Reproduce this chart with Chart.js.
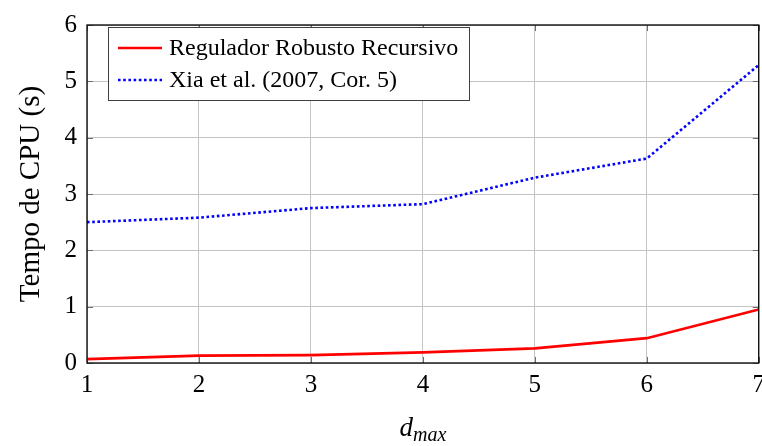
<!DOCTYPE html>
<html>
<head>
<meta charset="utf-8">
<script src="https://cdn.jsdelivr.net/npm/chart.js@4.4.1/dist/chart.umd.min.js"></script>
<style>
  html, body { margin: 0; padding: 0; background: #fff; overflow: hidden; }
  #wrap { width: 762px; height: 446px; overflow: hidden; }
</style>
</head>
<body>
<div id="wrap"><canvas id="cpuChart" width="772" height="446"></canvas></div>
<script>
const dmax = [1, 2, 3, 4, 5, 6, 7];
const recursivo = [0.07, 0.13, 0.14, 0.19, 0.26, 0.44, 0.95];
const xia = [2.5, 2.58, 2.75, 2.82, 3.29, 3.63, 5.29];
const yTicks = [0, 1, 2, 3, 4, 5, 6];

const serif = '"Liberation Serif", "Times New Roman", serif';

const toPoints = (ys) => dmax.map((x, i) => ({ x: x, y: ys[i] }));

// frame, inner tick marks, legend box and the d_max axis title
const decorations = {
  id: 'decorations',
  afterDatasetsDraw(chart) {
    const { ctx, chartArea: a, scales } = chart;
    ctx.save();

    // inner tick marks on all four sides
    ctx.strokeStyle = '#6e6e6e';
    ctx.lineWidth = 1;
    ctx.beginPath();
    scales.y.ticks.forEach((t) => {
      const py = Math.round(scales.y.getPixelForValue(t.value)) + 0.5;
      ctx.moveTo(a.left, py); ctx.lineTo(a.left + 6, py);
      ctx.moveTo(a.right, py); ctx.lineTo(a.right - 6, py);
    });
    scales.x.ticks.forEach((t) => {
      const px = Math.round(scales.x.getPixelForValue(t.value)) + 0.5;
      ctx.moveTo(px, a.bottom); ctx.lineTo(px, a.bottom - 6);
      ctx.moveTo(px, a.top); ctx.lineTo(px, a.top + 6);
    });
    ctx.stroke();

    // axis frame
    ctx.strokeStyle = '#000';
    ctx.lineWidth = 1.3;
    ctx.strokeRect(a.left, a.top, a.right - a.left, a.bottom - a.top);

    // legend
    const bx = 108.5, by = 27.5, bw = 361, bh = 73;
    ctx.fillStyle = '#fff';
    ctx.fillRect(bx, by, bw, bh);
    ctx.strokeStyle = '#404040';
    ctx.lineWidth = 1;
    ctx.strokeRect(bx, by, bw, bh);

    const rows = [48, 80];
    chart.data.datasets.forEach((ds, i) => {
      ctx.strokeStyle = ds.borderColor;
      ctx.lineWidth = ds.borderWidth;
      ctx.setLineDash(ds.borderDash || []);
      ctx.beginPath();
      ctx.moveTo(118, rows[i]);
      ctx.lineTo(162, rows[i]);
      ctx.stroke();
      ctx.setLineDash([]);
      ctx.fillStyle = '#000';
      ctx.font = '24px ' + serif;
      ctx.textBaseline = 'middle';
      ctx.textAlign = 'left';
      ctx.fillText(ds.label, 169, rows[i] + 1);
    });

    // x axis title: d with subscript max
    ctx.fillStyle = '#000';
    ctx.textBaseline = 'alphabetic';
    ctx.textAlign = 'left';
    ctx.font = 'italic 27px ' + serif;
    const dw = ctx.measureText('d').width;
    ctx.font = 'italic 20px ' + serif;
    const mw = ctx.measureText('max').width;
    const start = 423 - (dw + mw) / 2;
    ctx.font = 'italic 27px ' + serif;
    ctx.fillText('d', start, 436);
    ctx.font = 'italic 20px ' + serif;
    ctx.fillText('max', start + dw, 441);

    ctx.restore();
  }
};

const chart = new Chart(document.getElementById('cpuChart').getContext('2d'), {
  type: 'line',
  data: {
    datasets: [
      {
        label: 'Regulador Robusto Recursivo',
        data: toPoints(recursivo),
        borderColor: '#ff0000',
        borderWidth: 2.7,
        pointRadius: 0,
        tension: 0,
      },
      {
        label: 'Xia et al. (2007, Cor. 5)',
        data: toPoints(xia),
        borderColor: '#0000ff',
        borderWidth: 2.6,
        borderDash: [2.6, 2.6],
        pointRadius: 0,
        tension: 0,
      },
    ],
  },
  plugins: [decorations],
  options: {
    responsive: false,
    devicePixelRatio: 1,
    animation: false,
    layout: {
      padding: { top: 16, right: 12.5, left: 0, bottom: 0 },
    },
    plugins: {
      legend: { display: false },
      tooltip: { enabled: false },
    },
    scales: {
      x: {
        type: 'linear',
        min: dmax[0],
        max: dmax[dmax.length - 1],
        grid: {
          color: '#c4c4c4',
          lineWidth: 1,
          drawTicks: false,
        },
        border: { display: false },
        ticks: {
          stepSize: 1,
          padding: 7,
          color: '#000',
          font: { family: serif, size: 25 },
        },
        afterFit(scale) {
          scale.height = 83;
        },
      },
      y: {
        min: yTicks[0],
        max: yTicks[yTicks.length - 1],
        grid: {
          color: '#c4c4c4',
          lineWidth: 1,
          drawTicks: false,
        },
        border: { display: false },
        ticks: {
          stepSize: 1,
          padding: 10,
          color: '#000',
          font: { family: serif, size: 25 },
        },
        title: {
          display: true,
          text: 'Tempo de CPU (s)',
          color: '#000',
          font: { family: serif, size: 29 },
          padding: { top: 14, bottom: 0 },
        },
        afterFit(scale) {
          scale.width = 87;
        },
      },
    },
  },
});
</script>
</body>
</html>
